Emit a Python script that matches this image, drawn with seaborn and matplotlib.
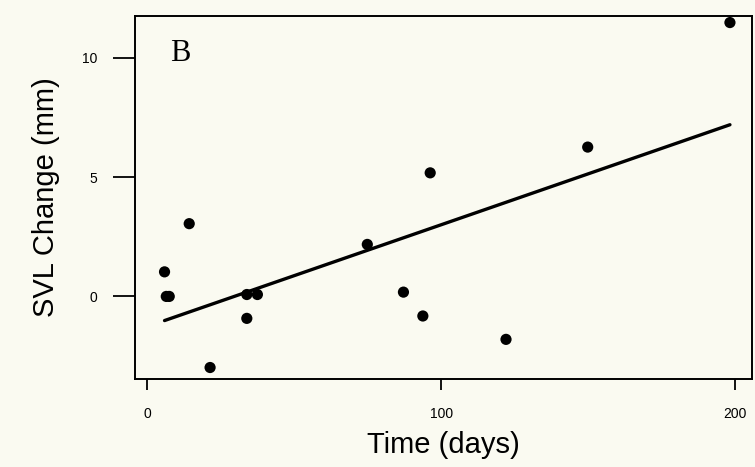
import matplotlib
matplotlib.use("Agg")
import matplotlib.pyplot as plt
import seaborn as sns
import pandas as pd

# values
time_days = [5.9, 6.5, 7.5, 14.3, 21.4, 33.9, 33.9, 37.5, 74.9, 87.2, 93.8, 96.3, 122.1, 149.9, 198.3]
svl_change = [1.03, 0.0, 0.0, 3.05, -2.98, 0.08, -0.92, 0.08, 2.18, 0.18, -0.82, 5.18, -1.80, 6.26, 11.48]
x_ticks = [0, 100, 200]
y_ticks = [0, 5, 10]

df = pd.DataFrame({"time": time_days, "svl": svl_change})

sns.set_style("ticks")
plt.rcParams['font.family'] = ['Liberation Sans', 'DejaVu Sans']
plt.rcParams['text.color'] = 'black'
plt.rcParams['axes.labelcolor'] = 'black'
plt.rcParams['xtick.color'] = 'black'
plt.rcParams['ytick.color'] = 'black'

bg = "#fafaf1"
fig = plt.figure(figsize=(7.55, 4.67), dpi=100, facecolor=bg)
ax = fig.add_axes([0.179, 0.188, 0.817, 0.778])
ax.set_facecolor(bg)

sns.regplot(data=df, x="time", y="svl", ci=None, ax=ax, color="black",
            scatter_kws={"s": 65, "edgecolor": "none", "alpha": 1},
            line_kws={"linewidth": 2.4})

ax.set_xlim(-4.1, 205.8)
ax.set_ylim(-3.47, 11.76)
ax.set_xticks(x_ticks)
ax.set_yticks(y_ticks)

for s in ax.spines.values():
    s.set_visible(True)
    s.set_linewidth(1.4)
    s.set_color("black")

ax.tick_params(axis="y", length=16, width=1.3, pad=11, labelsize=10)
ax.tick_params(axis="x", length=8, width=1.3, pad=12, labelsize=10)

ax.set_xlabel("Time (days)", fontsize=21, labelpad=7)
ax.set_ylabel("SVL Change (mm)", fontsize=21, labelpad=16)

ax.text(0.057, 0.935, "B", transform=ax.transAxes, fontsize=22,
        family=["Liberation Serif", "DejaVu Serif"], va="top", ha="left")

fig.savefig("out.png", dpi=100, facecolor=bg)
